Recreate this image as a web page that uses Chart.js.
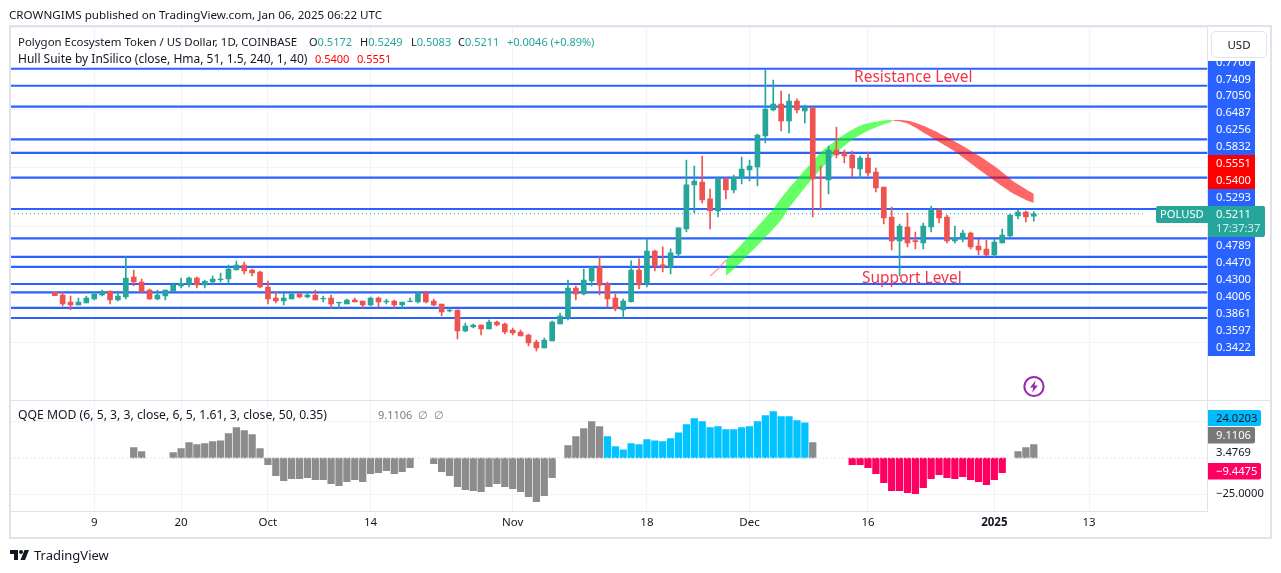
<!DOCTYPE html>
<html>
<head>
<meta charset="utf-8">
<title>POLUSD</title>
<script src="https://cdn.jsdelivr.net/npm/chart.js@4"></script>
<style>
    html, body { margin: 0; padding: 0; background: #fff; }
    body { width: 1281px; height: 573px; position: relative; overflow: hidden; font-family: "Noto Sans", sans-serif; color: #131722; }
    canvas { position: absolute; left: 0; top: 0; }
    .t { position: absolute; white-space: nowrap; font-size: 12px; line-height: 16px; }
    .v { font-size: 11px; }
    .up { color: #26a69a; }
    .hot { color: #ff0000; }
    .note { color: #f23645; font-size: 15.5px; line-height: 20px; }
    .line { position: absolute; background: #e0e3eb; }
    #usd { position: absolute; left: 1211px; top: 31px; width: 54px; height: 25px; border: 1px solid #e0e3eb; border-radius: 5px; font-size: 11.5px; line-height: 25px; text-align: center; }
</style>
</head>
<body>
<canvas id="chart" width="1281" height="573"></canvas>

<div class="line" style="left:10px;top:25px;width:1261px;height:2px"></div>
<div class="line" style="left:10px;top:537px;width:1261px;height:2px"></div>
<div class="line" style="left:9px;top:25px;width:2px;height:514px"></div>
<div class="line" style="left:1270px;top:25px;width:2px;height:514px"></div>
<div class="line" style="left:10px;top:400px;width:1260px;height:1px"></div>
<div id="usd">USD</div>

<div class="t" style="left:9px;top:7px;font-size:11.65px">CROWNGIMS published on TradingView.com, Jan 06, 2025 06:22 UTC</div>
<div class="t" style="left:18px;top:34px;font-size:11.45px">Polygon Ecosystem Token / US Dollar, 1D, COINBASE</div>
<div class="t v" style="left:309px;top:34px"><span style="color:#131722">O</span><span class="up">0.5172</span></div>
<div class="t v" style="left:360px;top:34px"><span style="color:#131722">H</span><span class="up">0.5249</span></div>
<div class="t v" style="left:411px;top:34px"><span style="color:#131722">L</span><span class="up">0.5083</span></div>
<div class="t v" style="left:458px;top:34px"><span style="color:#131722">C</span><span class="up">0.5211</span></div>
<div class="t v up" style="left:507px;top:34px">+0.0046 (+0.89%)</div>
<div class="t" style="left:18px;top:51px">Hull Suite by InSilico (close, Hma, 51, 1.5, 240, 1, 40)</div>
<div class="t v hot" style="left:315px;top:51px">0.5400</div>
<div class="t v hot" style="left:357px;top:51px">0.5551</div>
<div class="t" style="left:18px;top:407px;font-size:12.2px">QQE MOD (6, 5, 3, 3, close, 6, 5, 1.61, 3, close, 50, 0.35)</div>
<div class="t v" style="left:378px;top:407px;color:#787b86">9.1106 &nbsp;∅ &nbsp;∅</div>
<div class="t note" style="left:854px;top:66px">Resistance Level</div>
<div class="t note" style="left:862px;top:267px">Support Level</div>

<svg style="position:absolute;left:1022px;top:375px" width="24" height="24" viewBox="0 0 24 24">
    <circle cx="12" cy="11.5" r="9.6" fill="#fff" stroke="#9c27b0" stroke-width="2"/>
    <path d="M13.5 5.5 L8 12.5 H11.2 L10.2 17.5 L16 10.4 H12.6 Z" fill="#9c27b0"/>
</svg>
<svg style="position:absolute;left:10px;top:549px" width="20" height="12" viewBox="0 0 20 12">
    <path d="M0 1 H8 V11 H4 V5 H0 Z M19 1 L15 11 H10.5 L14.5 1 Z" fill="#131722"/>
    <circle cx="11" cy="3" r="2" fill="#131722"/>
</svg>
<div class="t" style="left:34px;top:545px;font-size:13px;line-height:20px">TradingView</div>

<script>
const opens = [0.3863,0.3817,0.3697,0.3646,0.3680,0.3749,0.3817,0.3886,0.3731,0.3783,0.4126,0.4040,0.3903,0.3749,0.3800,0.3886,0.3972,0.4006,0.4109,0.3989,0.4040,0.4080,0.4092,0.4246,0.4332,0.4246,0.4212,0.3954,0.3766,0.3714,0.3749,0.3834,0.3783,0.3817,0.3749,0.3766,
    0.3680,0.3662,0.3731,0.3714,0.3645,0.3765,0.3697,0.3714,0.3645,0.3702,0.3697,0.3851,0.3714,0.3662,0.3542,0.3559,0.3199,0.3268,0.3302,0.3233,0.3353,0.3319,0.3216,0.3182,0.3130,0.3010,0.2907,0.3027,0.3319,0.3422,0.3937,0.3834,0.4057,0.4297,0.4006,0.3765,0.3559,
    0.3704,0.4247,0.4007,0.4573,0.4333,0.4299,0.4522,0.4951,0.5706,0.5757,0.5466,0.5260,0.5809,0.5620,0.5826,0.5963,0.6015,0.6547,0.6993,0.7096,0.6804,0.7147,0.6976,0.7027,0.5832,0.5792,0.6306,
    0.6254,0.6220,0.5980,0.6168,0.5928,0.5671,0.5156,0.4744,0.4984,0.4750,0.4710,0.4984,0.5276,0.5156,0.4744,0.4778,0.4881,0.4658,0.4607,0.4504,0.4710,0.4830,0.5173,0.5242,0.5172];
const highs = [0.3863,0.3857,0.3800,0.3766,0.3800,0.3863,0.3903,0.3886,0.3886,0.4469,0.4246,0.4092,0.3920,0.3903,0.3903,0.4023,0.4109,0.4126,0.4126,0.4075,0.4143,0.4195,0.4332,0.4401,0.4383,0.4263,0.4229,0.4057,0.3869,0.3852,0.3852,0.3852,0.3869,0.3903,0.3800,0.3817,
    0.3697,0.3748,0.3765,0.3714,0.3782,0.3782,0.3748,0.3731,0.3697,0.3765,0.3868,0.3885,0.3748,0.3662,0.3594,0.3559,0.3336,0.3319,0.3302,0.3388,0.3371,0.3336,0.3251,0.3216,0.3148,0.3045,0.3079,0.3371,0.3508,0.4074,0.3971,0.4263,0.4297,0.4469,0.4040,0.3834,0.3748,
    0.4402,0.4436,0.4779,0.4590,0.4642,0.4608,0.4968,0.6135,0.6032,0.6203,0.5637,0.5843,0.5826,0.5877,0.6186,0.6135,0.6581,0.7679,0.7508,0.7319,0.7267,0.7182,0.7079,0.7044,0.6032,0.6375,0.6701,
    0.6306,0.6288,0.6203,0.6271,0.5997,0.5671,0.5328,0.5036,0.5225,0.4898,0.5053,0.5345,0.5293,0.5190,0.5001,0.4933,0.4898,0.4778,0.4761,0.4778,0.4950,0.5207,0.5276,0.5259,0.5249];
const lows = [0.3806,0.3628,0.3566,0.3646,0.3680,0.3731,0.3800,0.3663,0.3714,0.3749,0.3972,0.3869,0.3743,0.3731,0.3731,0.3886,0.3937,0.3954,0.3937,0.3937,0.3989,0.4040,0.4006,0.4246,0.4178,0.4143,0.3937,0.3663,0.3680,0.3646,0.3749,0.3766,0.3766,0.3731,0.3697,0.3594,
    0.3594,0.3662,0.3697,0.3594,0.3628,0.3611,0.3662,0.3594,0.3594,0.3697,0.3680,0.3680,0.3628,0.3456,0.3525,0.3062,0.3182,0.3251,0.3130,0.3233,0.3285,0.3148,0.3130,0.3113,0.2942,0.2856,0.2907,0.3027,0.3319,0.3388,0.3731,0.3817,0.3971,0.3817,0.3611,0.3542,0.3422,
    0.3692,0.3921,0.3956,0.4230,0.4213,0.4179,0.4470,0.4899,0.5225,0.5397,0.4951,0.5157,0.5466,0.5569,0.5723,0.5774,0.5689,0.6427,0.6976,0.6632,0.6598,0.6941,0.6770,0.5157,0.5277,0.5551,0.6169,
    0.6083,0.5842,0.5825,0.5859,0.5585,0.5036,0.4590,0.4143,0.4641,0.4607,0.4607,0.4898,0.5053,0.4710,0.4710,0.4727,0.4607,0.4504,0.4487,0.4470,0.4710,0.4813,0.5122,0.5070,0.5083];
const closes = [0.3806,0.3663,0.3646,0.3697,0.3766,0.3834,0.3874,0.3731,0.3800,0.4109,0.4040,0.3869,0.3749,0.3817,0.3903,0.3989,0.4017,0.4109,0.3989,0.4052,0.4092,0.4092,0.4263,0.4332,0.4229,0.4195,0.3954,0.3749,0.3714,0.3766,0.3834,0.3783,0.3817,0.3731,0.3760,0.3663,
    0.3691,0.3731,0.3697,0.3645,0.3765,0.3697,0.3714,0.3645,0.3697,0.3714,0.3851,0.3697,0.3645,0.3525,0.3559,0.3199,0.3285,0.3302,0.3233,0.3353,0.3302,0.3182,0.3165,0.3113,0.2993,0.2907,0.3045,0.3353,0.3456,0.3937,0.3834,0.4074,0.4297,0.3988,0.3748,0.3577,0.3714,
    0.4247,0.3990,0.4573,0.4316,0.4299,0.4539,0.4968,0.5706,0.5774,0.5448,0.5260,0.5809,0.5620,0.5843,0.5980,0.6032,0.6564,0.7010,0.7096,0.6804,0.7147,0.6993,0.7044,0.5809,0.5815,0.6306,0.6221,
    0.6203,0.5997,0.6168,0.5911,0.5654,0.5139,0.4744,0.5001,0.4710,0.4733,0.5001,0.5276,0.5139,0.4744,0.4796,0.4881,0.4641,0.4590,0.4504,0.4727,0.4847,0.5190,0.5242,0.5156,0.5211];

const qqe = [null,null,null,null,null,null,null,null,null,null,7.1,4.4,null,null,null,3.7,6.4,10.6,9.2,9.9,11.3,11.9,16.8,20.9,18.8,16.1,6.4,
    -4.6,-12.2,-15.6,-14.2,-14.2,-13.5,-14.9,-14.9,-17.7,-19.1,-16.3,-14.9,-16.3,-10.8,-10.1,-8.7,-10.8,-9.4,-6.7,null,null,
    -3.9,-9.4,-12.2,-19.7,-21.8,-22.5,-23.2,-19.7,-17.7,-19.7,-21.1,-23.2,-26.6,-30.1,-25.9,-13.5,null,
    8.5,14.7,20.2,25.0,21.6,14.7,7.8,5.7,9.9,9.2,12.6,11.9,11.3,13.3,17.4,23.0,27.1,25.0,20.9,21.6,19.5,19.5,20.9,21.6,25.0,29.2,31.9,28.5,28.5,25.7,24.3,10.6,
    null,null,null,null,-4.6,-4.6,-6.7,-10.8,-17.0,-22.5,-22.5,-23.9,-24.6,-20.4,-14.2,-11.5,-13.5,-14.2,-12.9,-14.9,-16.3,-18.4,-14.9,-10.1,null,4.4,7.1,9.2];

const hullUpStart = 85;
const hullUpTop = [0.4418,0.4549,0.4687,0.4847,0.4990,0.5144,0.5293,0.5476,0.5648,0.5802,0.5962,0.6105,0.6265,0.6374,0.6483,0.6574,0.6654,0.6723,0.6763,0.6792,0.6814,0.6820];
const hullUpBottom = [0.4143,0.4263,0.4389,0.4532,0.4664,0.4807,0.4950,0.5104,0.5316,0.5487,0.5659,0.5819,0.5974,0.6122,0.6260,0.6374,0.6483,0.6563,0.6637,0.6694,0.6746,0.6792];
const hullDownStart = 106;
const hullDownTop = [0.6815,0.6820,0.6809,0.6775,0.6722,0.6660,0.6595,0.6525,0.6450,0.6375,0.6295,0.6210,0.6123,0.6031,0.5925,0.5814,0.5716,0.5631,0.5551];
const hullDownBottom = [0.6809,0.6798,0.6760,0.6690,0.6605,0.6525,0.6445,0.6365,0.6280,0.6180,0.6077,0.5974,0.5877,0.5779,0.5682,0.5591,0.5516,0.5448,0.5400];
const hullTailStart = 83;
const hullTail = [0.4143,0.4263,0.4418];

const levels = [0.7700,0.7409,0.7050,0.6487,0.6256,0.5832,0.5293,0.4789,0.4470,0.4300,0.4006,0.3861,0.3597,0.3422];
const lastPrice = 0.5211;

const timeTicks = [5,16,27,40,58,75,88,103,119,131];
const timeLabels = ["9","20","Oct","14","Nov","18","Dec","16","2025","13"];

const xMin = -5.67, xMax = 146;
const GREEN = "#26a69a", RED = "#ef5350", BLUE = "#2962ff";

function qqeColor(i) {
    if (i >= 70 && i <= 95) return "#00c3ff";
    if (i >= 101 && i <= 120) return "#ff0062";
    return "#8c8c8c";
}

function series(start, values) {
    return values.map((v, i) => ({ x: start + i, y: v }));
}

function hullPair(start, top, bottom, color) {
    return [
        { type: "line", data: series(start, top), borderWidth: 0, pointRadius: 0, tension: 0.3, fill: "+1", backgroundColor: color, order: 6 },
        { type: "line", data: series(start, bottom), borderWidth: 0, pointRadius: 0, tension: 0.3, fill: false, order: 6 },
    ];
}

const levelSets = levels.map(v => ({
    type: "line",
    data: [{ x: xMin, y: v }, { x: xMax, y: v }],
    borderColor: BLUE, borderWidth: 2.2, pointRadius: 0, order: 8,
}));

const candleColors = opens.map((o, i) => closes[i] >= o ? GREEN : RED);

const datasets = [
    ...levelSets,
    { type: "line", data: [{ x: xMin, y: lastPrice }, { x: 137.8, y: lastPrice }], borderColor: GREEN, borderWidth: 1, borderDash: [1, 3], pointRadius: 0, order: 7 },
    { type: "line", data: series(hullTailStart, hullTail), borderColor: "rgba(255,82,82,.5)", borderWidth: 1.5, pointRadius: 0, order: 6 },
    ...hullPair(hullUpStart, hullUpTop, hullUpBottom, "rgba(0,255,0,.6)"),
    ...hullPair(hullDownStart, hullDownTop, hullDownBottom, "rgba(255,0,0,.6)"),
    {
        type: "bar", grouped: false, barThickness: 1, order: 3,
        data: opens.map((o, i) => ({ x: i, y: [lows[i], highs[i]] })),
        backgroundColor: candleColors,
    },
    {
        type: "bar", grouped: false, barThickness: 5, order: 2,
        data: opens.map((o, i) => ({ x: i, y: [Math.min(o, closes[i]), Math.max(o, closes[i])] })),
        backgroundColor: candleColors,
    },
    {
        type: "bar", grouped: false, barThickness: 6.6, order: 2, yAxisID: "y2",
        data: qqe.map((v, i) => ({ x: i, y: v })).filter(p => p.y !== null),
        backgroundColor: qqe.map((v, i) => v === null ? null : qqeColor(i)).filter(c => c),
    },
    {
        type: "line", yAxisID: "y2", data: [{ x: xMin, y: 0 }, { x: xMax, y: 0 }],
        borderColor: "#e8e9ee", borderWidth: 1, borderDash: [2, 2], pointRadius: 0, order: 1,
    },
];

// rotulos do eixo de preco, posicoes ja resolvidas como no TradingView
const priceTags = [
    ["0.7700", 62.8], ["0.7409", 79.5], ["0.7050", 96.2], ["0.6487", 112.8], ["0.6256", 129.8], ["0.5832", 146.8],
    ["0.5551", 163.8], ["0.5400", 180.8], ["0.5293", 197.8],
    ["0.4789", 245.8], ["0.4470", 262.8], ["0.4300", 279.8], ["0.4006", 296.8], ["0.3861", 313.8], ["0.3597", 330.8], ["0.3422", 347.8],
];

const axisLabels = {
    id: "axisLabels",
    afterDraw(chart) {
        const c = chart.ctx;
        c.save();
        c.font = '11.2px "Noto Sans", sans-serif';
        c.textBaseline = "middle";
        c.textAlign = "left";
        c.fillStyle = BLUE;
        c.fillRect(1208, 61, 47, 295);
        c.fillStyle = "#ff0000";
        c.fillRect(1208, 155, 47, 34);
        c.fillStyle = GREEN;
        c.beginPath();
        c.roundRect(1208, 206, 57, 31, [0, 2, 2, 0]);
        c.fill();
        c.beginPath();
        c.roundRect(1156, 206, 52, 17, [2, 0, 0, 2]);
        c.fill();

        c.save();
        c.beginPath();
        c.rect(1208, 61, 60, 300);
        c.clip();
        c.fillStyle = "#fff";
        priceTags.forEach(([text, y]) => c.fillText(text, 1216, y));
        c.restore();

        c.fillStyle = "#fff";
        c.fillText(lastPrice.toFixed(4), 1216, 214.8);
        c.fillText("POLUSD", 1160, 214.8);
        c.fillStyle = "#d4f0ec";
        c.fillText("17:37:37", 1216, 228.5);

        c.fillStyle = "#00bcff";
        c.beginPath();
        c.roundRect(1208, 410, 53, 16, [0, 2, 2, 0]);
        c.fill();
        c.fillStyle = "#787878";
        c.beginPath();
        c.roundRect(1208, 427, 47, 16.5, [0, 2, 2, 0]);
        c.fill();
        c.fillStyle = "#ff0062";
        c.beginPath();
        c.roundRect(1208, 463, 53, 16.5, [0, 2, 2, 0]);
        c.fill();

        c.fillStyle = "#131722";
        c.fillText("24.0203", 1216, 418.5);
        c.fillText("3.4769", 1216, 452.5);
        c.fillText("−25.0000", 1216, 493.5);
        c.fillStyle = "#fff";
        c.fillText("9.1106", 1216, 435.5);
        c.fillText("−9.4475", 1216, 471.5);
        c.restore();
    },
};

new Chart(document.getElementById("chart").getContext("2d"), {
    type: "bar",
    data: { datasets },
    plugins: [axisLabels],
    options: {
        responsive: false,
        animation: false,
        devicePixelRatio: 1,
        layout: { padding: { left: 10, top: 27, right: 11, bottom: 35 } },
        plugins: { legend: { display: false }, tooltip: { enabled: false } },
        scales: {
            x: {
                type: "linear", min: xMin, max: xMax, offset: false,
                grid: { color: "#f0f3fa", offset: false, drawTicks: false },
                border: { color: "#e0e3eb", width: 1 },
                afterBuildTicks: axis => { axis.ticks = timeTicks.map(v => ({ value: v })); },
                afterFit: axis => { axis.height = 27; },
                ticks: {
                    autoSkip: false, maxRotation: 0, padding: 5, color: "#131722",
                    font: ctx => ({ family: '"Noto Sans", sans-serif', size: 11.5, weight: ctx.index === 8 ? "bold" : "normal" }),
                    callback: v => timeLabels[timeTicks.indexOf(v)],
                },
            },
            y: {
                type: "linear", position: "right", min: 0.2015, max: 0.8417,
                stack: "panes", stackWeight: 373,
                grid: { color: "#f0f3fa", drawTicks: false },
                border: { color: "#e0e3eb", width: 1 },
                ticks: { display: false, stepSize: 0.1 },
                afterFit: axis => { axis.width = 62.5; },
            },
            y2: {
                type: "linear", position: "right", min: -36.5, max: 39.94,
                stack: "panes", stackWeight: 111,
                grid: { color: "#f0f3fa", drawTicks: false },
                border: { color: "#e0e3eb", width: 1 },
                afterBuildTicks: axis => { axis.ticks = [{ value: -25 }, { value: 25 }]; },
                ticks: { display: false },
                afterFit: axis => { axis.width = 62.5; },
            },
        },
    },
});
</script>
</body>
</html>
